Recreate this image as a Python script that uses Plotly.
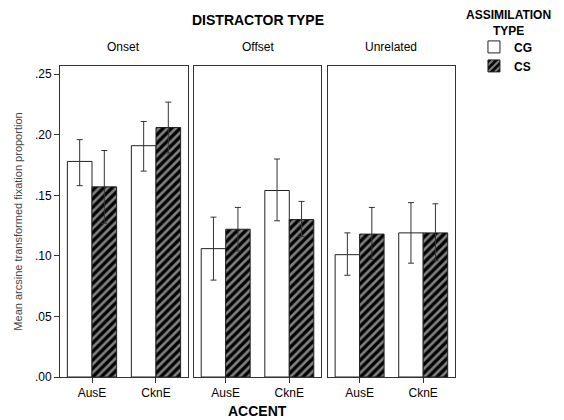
import plotly.graph_objects as go

panels = ["Onset", "Offset", "Unrelated"]
accents = ["AusE", "CknE"]
groups = ["CG", "CS"]

# means per panel: [AusE, CknE]
cg_mean = [[0.178, 0.191], [0.106, 0.154], [0.101, 0.119]]
cs_mean = [[0.157, 0.206], [0.122, 0.130], [0.118, 0.119]]
cg_hi = [[0.196, 0.211], [0.132, 0.180], [0.119, 0.144]]
cg_lo = [[0.158, 0.170], [0.080, 0.129], [0.084, 0.094]]
cs_hi = [[0.187, 0.227], [0.140, 0.145], [0.140, 0.143]]
cs_lo = [[0.127, 0.185], [0.104, 0.116], [0.097, 0.096]]

yticks = [0, 0.05, 0.10, 0.15, 0.20, 0.25]
yticklabels = [".00", ".05", ".10", ".15", ".20", ".25"]

FONT = "Arial, Liberation Sans, sans-serif"
fig = go.Figure()

domains = [[0.0, 0.324], [0.339, 0.661], [0.678, 1.0]]

for i, p in enumerate(panels):
    xa = "x" if i == 0 else f"x{i+1}"
    ya = "y" if i == 0 else f"y{i+1}"
    fig.add_trace(go.Bar(
        x=accents, y=cg_mean[i], name="<b>" + groups[0] + "</b>", legendgroup="CG",
        showlegend=(i == 0),
        xaxis=xa, yaxis=ya, offsetgroup="CG",
        marker=dict(color="white", line=dict(color="#222", width=1)),
        error_y=dict(type="data", symmetric=False,
                     array=[h - m for h, m in zip(cg_hi[i], cg_mean[i])],
                     arrayminus=[m - l for l, m in zip(cg_lo[i], cg_mean[i])],
                     color="#333", thickness=1, width=3),
    ))
    fig.add_trace(go.Bar(
        x=accents, y=cs_mean[i], name="<b>" + groups[1] + "</b>", legendgroup="CS",
        showlegend=(i == 0),
        xaxis=xa, yaxis=ya, offsetgroup="CS",
        marker=dict(color="black", line=dict(color="#222", width=1),
                    pattern=dict(shape="/", fgcolor="white", bgcolor="black",
                                 size=6, solidity=0.45)),
        error_y=dict(type="data", symmetric=False,
                     array=[h - m for h, m in zip(cs_hi[i], cs_mean[i])],
                     arrayminus=[m - l for l, m in zip(cs_lo[i], cs_mean[i])],
                     color="#333", thickness=1, width=3),
    ))

layout = dict(
    width=556, height=412,
    margin=dict(l=52, r=109, t=58, b=43, autoexpand=False),
    paper_bgcolor="white", plot_bgcolor="white",
    barmode="group", bargap=0.23, bargroupgap=0,
    font=dict(family=FONT, size=12, color="black"),
    showlegend=True,
    legend=dict(
        x=1.048, xanchor="left", y=1.108, yanchor="top",
        font=dict(size=12), itemwidth=30, tracegroupgap=0,
        bgcolor="rgba(0,0,0,0)",
    ),
)

for i in range(3):
    xk = "xaxis" if i == 0 else f"xaxis{i+1}"
    yk = "yaxis" if i == 0 else f"yaxis{i+1}"
    layout[xk] = dict(
        domain=domains[i], anchor="y" if i == 0 else f"y{i+1}",
        showline=True, mirror=True, linecolor="#333", linewidth=1,
        ticks="outside", ticklen=5, tickcolor="#333",
        showgrid=False, zeroline=False, range=[-0.5, 1.5],
        tickfont=dict(size=12), fixedrange=True,
    )
    layout[yk] = dict(
        anchor="x" if i == 0 else f"x{i+1}",
        range=[0, 0.2568], showline=True, mirror=True, linecolor="#333",
        linewidth=1, showgrid=False, zeroline=False,
        tickvals=yticks, ticktext=yticklabels,
        ticks="outside" if i == 0 else "", ticklen=5, tickcolor="#333",
        showticklabels=(i == 0), tickfont=dict(size=12),
    )

layout["yaxis"]["title"] = dict(
    text="Mean arcsine transformed fixation proportion",
    font=dict(size=11, color="#444"), standoff=10)

fig.update_layout(**layout)

annotations = [
    dict(text="<b>DISTRACTOR TYPE</b>", x=0.5, y=1.0, xref="paper", yref="paper",
         xanchor="center", yanchor="middle",
         yshift=46, showarrow=False, font=dict(size=14)),
    dict(text="<b>ACCENT</b>", x=0.5, y=0, xref="paper", yref="paper",
         xanchor="center", yanchor="middle",
         yshift=-34, showarrow=False, font=dict(size=14)),
    dict(text="<b>ASSIMILATION<br>TYPE</b>", x=(508 - 60) / 395, y=1.0,
         xref="paper", yref="paper", xanchor="center", yanchor="middle",
         yshift=43, showarrow=False, align="center", font=dict(size=12)),
]
for i, p in enumerate(panels):
    annotations.append(dict(text=p, x=sum(domains[i]) / 2, y=1.0, xref="paper",
                            yref="paper", xanchor="center", yanchor="middle",
                            yshift=19, showarrow=False,
                            font=dict(size=12)))
fig.update_layout(annotations=annotations)

fig.write_html("out.html")
